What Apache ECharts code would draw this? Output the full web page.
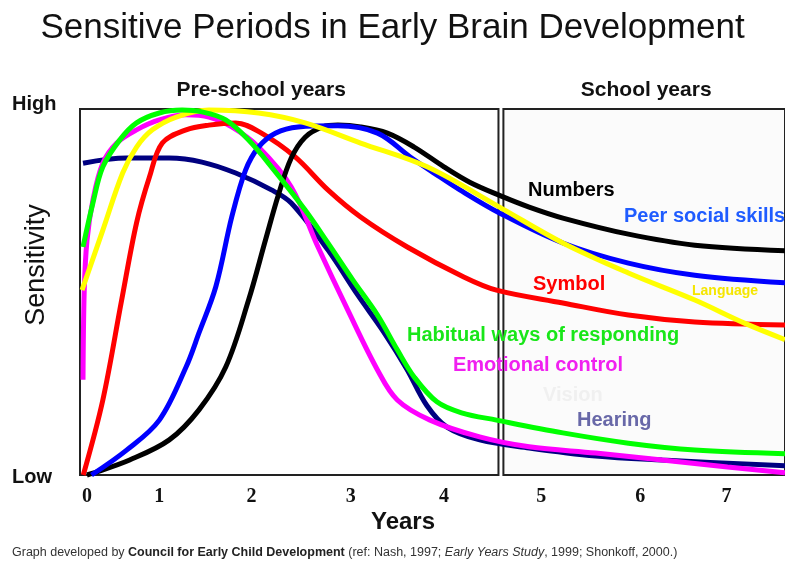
<!DOCTYPE html>
<html>
<head>
<meta charset="utf-8">
<script src="https://cdn.jsdelivr.net/npm/echarts@6/dist/echarts.min.js"></script>
<style>
  html, body { margin: 0; padding: 0; background: #fff; }
  #main { width: 785px; height: 562px; }
</style>
</head>
<body>
<div id="main"></div>
<script>
// x = visual years (0..7 along the drawn scale), y = sensitivity (0 = Low, 1 = High)
var tickPos  = [0, 0.792, 1.80, 2.888, 3.907, 4.971, 6.056, 7.0];
var tickText = ['0', '1', '2', '3', '4', '5', '6', '7'];

var hearing = [[-0.043,0.852],[0.434,0.866],[0.901,0.866],[1.259,0.855],[1.628,0.825],[2.019,0.779],[2.236,0.743],
  [2.637,0.615],[2.963,0.492],[3.25,0.39],[3.5,0.29],[3.72,0.19],[3.940,0.131],[4.298,0.096],[4.840,0.074],
  [5.568,0.052],[6.295,0.041],[7.64,0.025]];
var emotional = [[-0.043,0.260],[-0.03,0.5],[0,0.64],[0.065,0.751],[0.174,0.852],[0.326,0.907],[0.543,0.943],[0.792,0.970],
  [1.085,0.984],[1.335,0.978],[1.585,0.951],[1.878,0.896],[2.236,0.787],[2.529,0.623],[2.854,0.451],[3.180,0.287],
  [3.397,0.205],[3.755,0.150],[4.298,0.104],[4.840,0.077],[5.568,0.060],[6.295,0.041],[7.011,0.022],[7.64,0.006]];
var symbol = [[-0.04,0],[0.174,0.205],[0.380,0.478],[0.543,0.689],[0.684,0.814],[0.825,0.907],[1.085,0.943],[1.335,0.956],
  [1.628,0.962],[1.910,0.934],[2.279,0.869],[2.637,0.779],[2.995,0.705],[3.506,0.623],[4.124,0.541],[4.482,0.505],
  [5.209,0.470],[5.926,0.437],[6.653,0.418],[7.64,0.410]];
var numbers = [[0,0],[0.065,0.005],[0.467,0.041],[0.901,0.096],[1.226,0.178],[1.519,0.295],[1.769,0.478],[1.954,0.642],
  [2.095,0.765],[2.236,0.866],[2.388,0.923],[2.58,0.951],[2.746,0.956],[2.995,0.951],[3.288,0.934],[3.581,0.896],
  [3.907,0.842],[4.189,0.800],[4.515,0.764],[4.840,0.732],[5.209,0.702],[5.926,0.658],[6.653,0.628],[7.64,0.613]];
var peerSocial = [[0.05,0],[0.434,0.068],[0.792,0.150],[1.085,0.295],[1.226,0.388],[1.411,0.515],[1.585,0.705],[1.736,0.833],
  [1.878,0.896],[2.062,0.934],[2.312,0.951],[2.746,0.954],[3.180,0.934],[3.538,0.869],[3.799,0.825],[4.081,0.779],
  [4.515,0.716],[5.209,0.634],[5.926,0.579],[6.653,0.546],[7.64,0.525]];
var language = [[-0.054,0.505],[0.174,0.669],[0.391,0.825],[0.543,0.896],[0.716,0.943],[0.977,0.978],[1.335,0.997],
  [1.878,0.989],[2.388,0.962],[2.995,0.907],[3.723,0.842],[4.515,0.732],[5.209,0.634],[5.926,0.552],[6.653,0.478],
  [7.196,0.415],[7.64,0.370]];
var habitual = [[-0.043,0.623],[0.065,0.743],[0.174,0.842],[0.358,0.915],[0.543,0.962],[0.792,0.989],[1.042,0.997],
  [1.259,0.992],[1.519,0.970],[1.769,0.915],[2.019,0.842],[2.388,0.724],[2.637,0.634],[2.909,0.533],[3.180,0.437],
  [3.397,0.342],[3.581,0.268],[3.830,0.200],[4.1,0.170],[4.482,0.150],[5.209,0.115],[5.926,0.087],[6.653,0.068],[7.64,0.058]];

// period boxes [start, end] on the x scale
var preSchool = [-0.076, 4.504];
var school = [4.558, 7.64];

var myChart = echarts.init(document.getElementById('main'));

function line(name, data, color, extra) {
  var s = {
    name: name,
    type: 'line',
    data: data,
    smooth: 0.35,
    symbol: 'none',
    clip: false,
    z: 3,
    lineStyle: { color: color, width: 5 }
  };
  for (var k in extra) s[k] = extra[k];
  return s;
}

var boxStyle = { color: 'rgba(0,0,0,0)', borderColor: '#222', borderWidth: 2 };
var boxLabel = { show: true, position: 'top', distance: 7, color: '#111', fontFamily: 'Liberation Sans',
  fontWeight: 'bold', fontSize: 21 };

function note(x, y, text, size, color) {
  return { type: 'text', x: x, y: y, z: 100,
    style: { text: text, font: 'bold ' + size + 'px "Liberation Sans"', fill: color, textVerticalAlign: 'middle' } };
}

var option = {
  animation: false,
  title: {
    text: 'Sensitive Periods in Early Brain Development',
    left: 'center', top: 6,
    textStyle: { fontFamily: 'Liberation Sans', fontWeight: 'normal', fontSize: 35, color: '#111' }
  },
  grid: { left: 80, right: -6, top: 109, bottom: 87 },
  xAxis: {
    type: 'value', min: -0.076, max: 7.64,
    axisLine: { show: false }, axisTick: { show: false }, splitLine: { show: false },
    axisLabel: {
      customValues: tickPos, margin: 12,
      fontFamily: 'Liberation Serif', fontWeight: 'bold', fontSize: 20, color: '#111',
      formatter: function (v) { return tickText[tickPos.indexOf(v)]; }
    }
  },
  yAxis: {
    type: 'value', min: 0, max: 1,
    axisLine: { show: false }, axisTick: { show: false }, splitLine: { show: false },
    axisLabel: {
      customValues: [0, 1], align: 'left', margin: 68,
      fontFamily: 'Liberation Sans', fontWeight: 'bold', fontSize: 20, color: '#111',
      formatter: function (v) { return v === 1 ? '{hi|High}' : '{lo|Low}'; },
      rich: {
        hi: { fontFamily: 'Liberation Sans', fontWeight: 'bold', fontSize: 20, color: '#111', padding: [0, 0, 10, 0] },
        lo: { fontFamily: 'Liberation Sans', fontWeight: 'bold', fontSize: 20, color: '#111', padding: [4, 0, 0, 0] }
      }
    }
  },
  graphic: [
    { type: 'text', x: 37, y: 265, rotation: Math.PI / 2, z: 100, style: { text: 'Sensitivity', font: '27px "Liberation Sans"',
      fill: '#111', textAlign: 'center', textVerticalAlign: 'middle' } },
    { type: 'text', x: 403, y: 522, z: 100, style: { text: 'Years', font: 'bold 24px "Liberation Sans"', fill: '#111',
      textAlign: 'center', textVerticalAlign: 'middle' } },
    { type: 'text', x: 12, y: 553, z: 100, style: {
      text: 'Graph developed by {b|Council for Early Child Development} (ref: Nash, 1997; {i|Early Years Study}, 1999; Shonkoff, 2000.)',
      font: '12.5px "Liberation Sans"', fill: '#333', textVerticalAlign: 'middle',
      rich: { b: { fontWeight: 'bold', fontSize: 12.5, fontFamily: 'Liberation Sans', fill: '#222' },
              i: { fontStyle: 'italic', fontSize: 12.5, fontFamily: 'Liberation Sans', fill: '#333' } } } },
    note(528, 190, 'Numbers', 20, '#000'),
    note(624, 216, 'Peer social skills', 20, '#1f5cff'),
    note(533, 284, 'Symbol', 20, '#ff0000'),
    note(692, 291, 'Language', 14, '#f5e600'),
    note(407, 335, 'Habitual ways of responding', 20, '#19e619'),
    note(453, 365, 'Emotional control', 20, '#f020f0'),
    note(543, 395, 'Vision', 20, '#f0f0f0'),
    note(577, 420, 'Hearing', 20, '#6868a8')
  ],
  series: [
    line('Hearing', hearing, '#000080', {
      markArea: {
        silent: true,
        z: 1,
        data: [
          [{ name: 'Pre-school years', xAxis: preSchool[0], yAxis: 0, itemStyle: boxStyle,
             label: echarts.util.merge({ offset: [-28, 0] }, boxLabel) },
           { xAxis: preSchool[1], yAxis: 1 }],
          [{ name: 'School years', xAxis: school[0], yAxis: 0,
             itemStyle: { color: '#fbfbfb', borderColor: '#222', borderWidth: 2 },
             label: echarts.util.merge({ offset: [2, 0] }, boxLabel) },
           { xAxis: school[1], yAxis: 1 }]
        ]
      }
    }),
    line('Emotional control', emotional, '#ff00ff'),
    line('Symbol', symbol, '#ff0000'),
    line('Numbers', numbers, '#000000'),
    line('Peer social skills', peerSocial, '#0000ff'),
    line('Language', language, '#ffff00'),
    line('Habitual ways of responding', habitual, '#00ff00')
  ]
};

myChart.setOption(option);
</script>
</body>
</html>
